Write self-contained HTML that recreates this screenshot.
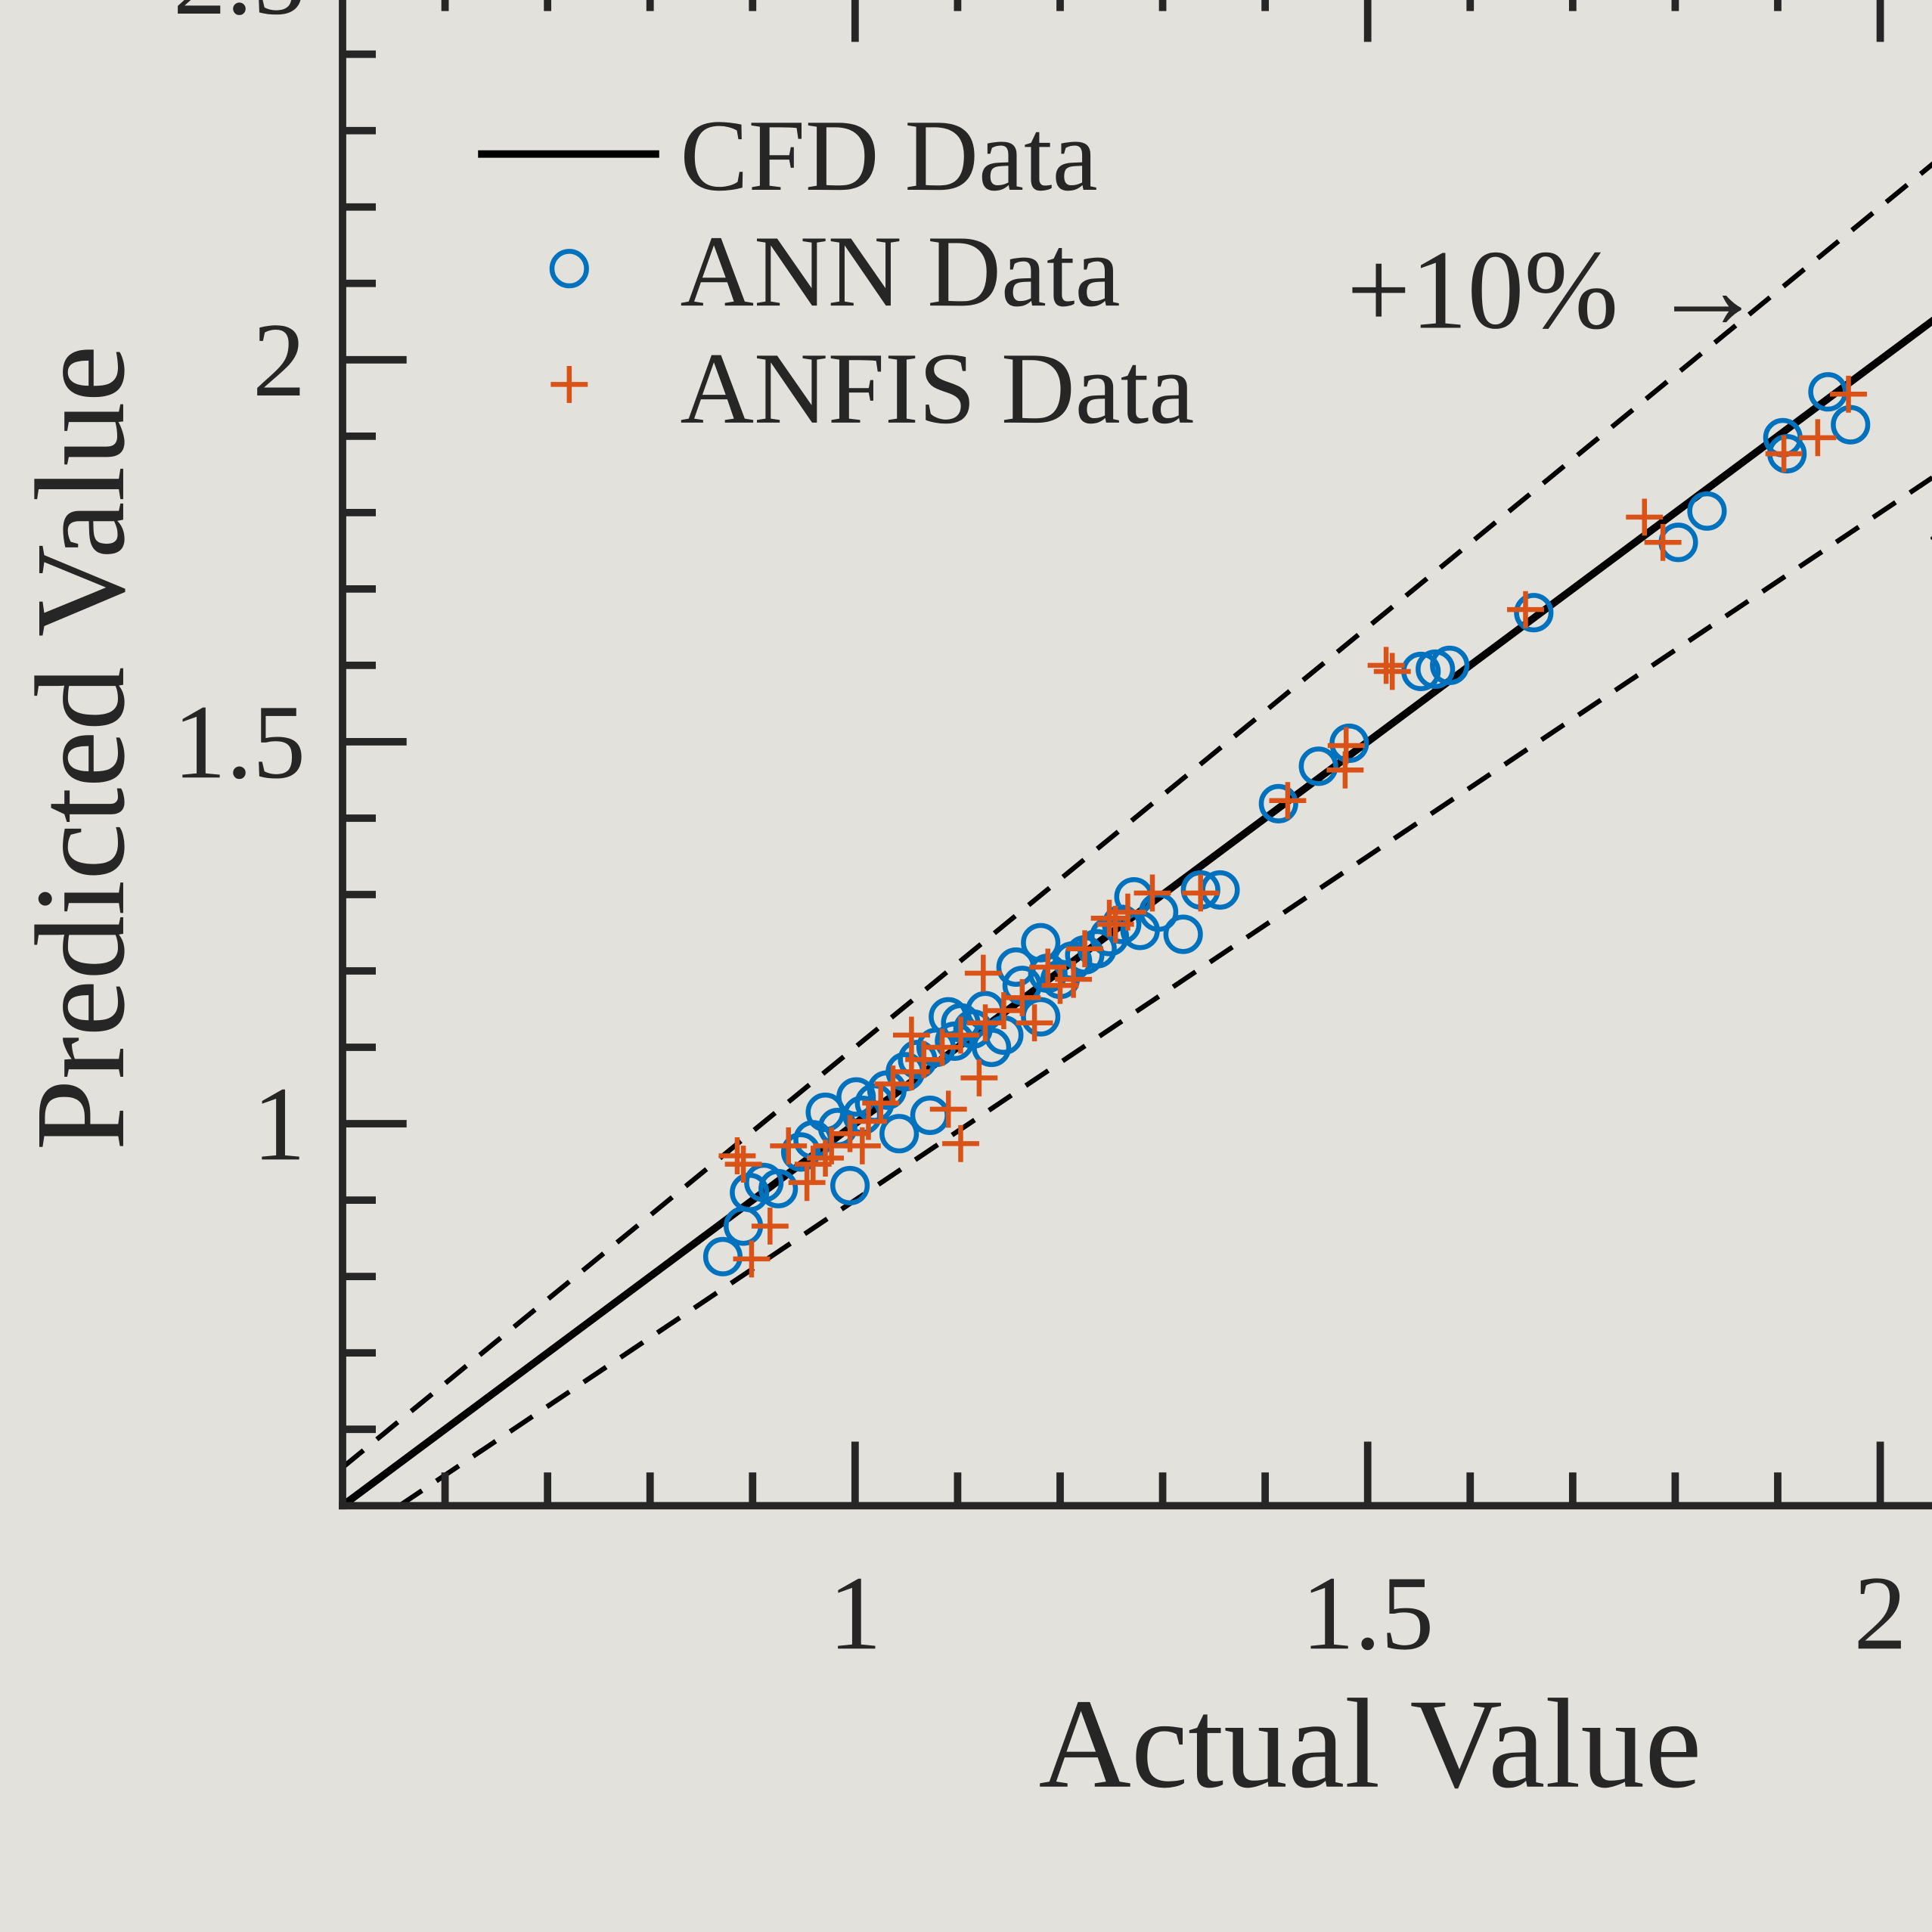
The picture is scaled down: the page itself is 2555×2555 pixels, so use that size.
<!DOCTYPE html>
<html><head><meta charset="utf-8"><style>
html,body{margin:0;padding:0;background:#e3e1db;overflow:hidden}
svg{display:block}
text{font-family:"Liberation Serif",serif;fill:#262626}
</style></head><body>
<svg id="chart" width="2555" height="2555" viewBox="0 0 1568 1568" xmlns="http://www.w3.org/2000/svg">
<rect width="1568" height="1568" fill="#e3e1db"/>
<g id="g"></g>
<text x="1112" y="1450" font-size="104" text-anchor="middle">Actual Value</text>
<text transform="translate(100,607) rotate(-90)" font-size="104" text-anchor="middle">Predicted Value</text>
<g>
<line x1="388" y1="125" x2="535" y2="125" stroke="#000" stroke-width="6"/>
<text x="552" y="154" font-size="83" fill="#000">CFD Data</text>
<circle cx="462" cy="218" r="14" fill="none" stroke="#0072BD" stroke-width="4"/>
<text x="552" y="248" font-size="83" fill="#000">ANN Data</text>
<path d="M447 312H477M462 297V327" stroke="#D95319" stroke-width="4"/>
<text x="552" y="343" font-size="83" fill="#000">ANFIS Data</text>
</g>
<text x="1093" y="266" font-size="92" fill="#000">+10%</text>
<text x="1340" y="266" font-size="92" fill="#000">→</text>
<text x="1548" y="452" font-size="92" fill="#000">← −10%</text>
</svg>
<script>
const annX=[0.871,0.891,0.897,0.911,0.925,0.995,0.971,1.001,1.043,1.073,1.091,1.103,1.127,1.157,1.181,1.181,1.224,1.272,1.278,1.296,1.320,1.337,1.356,1.413,1.452,1.482,1.552,1.566,1.580,1.662,1.803,1.831,1.905,1.909,1.949,1.971,0.947,0.959,0.983,1.007,1.019,1.031,1.049,1.061,1.079,1.097,1.115,1.133,1.145,1.163,1.188,1.200,1.212,1.236,1.248,1.260];
const annY=[0.826,0.866,0.910,0.923,0.915,0.919,1.015,1.035,0.987,1.011,1.140,1.132,1.148,1.205,1.237,1.140,1.221,1.297,1.253,1.277,1.248,1.306,1.306,1.419,1.468,1.498,1.592,1.595,1.600,1.669,1.761,1.802,1.898,1.877,1.958,1.915,0.963,0.979,0.995,1.011,1.027,1.044,1.068,1.084,1.100,1.108,1.124,1.100,1.116,1.181,1.197,1.189,1.213,1.229,1.245,1.261];
const anfisX=[0.891,0.899,0.917,0.885,0.935,0.953,0.971,1.007,1.055,1.103,1.121,1.125,1.091,1.175,1.200,1.213,1.248,1.290,1.337,1.422,1.478,1.479,1.518,1.524,1.654,1.770,1.788,1.906,1.939,1.969,0.959,0.977,0.995,1.013,1.025,1.037,1.055,1.067,1.085,1.103,1.127,1.145,1.163,1.188,1.224,1.254,1.266];
const anfisY=[0.947,0.823,0.866,0.958,0.971,0.923,0.955,0.971,1.116,0.974,1.060,1.197,1.019,1.132,1.181,1.189,1.269,1.302,1.302,1.423,1.463,1.495,1.600,1.592,1.673,1.794,1.761,1.877,1.898,1.955,0.947,0.971,0.987,1.003,1.027,1.052,1.068,1.084,1.100,1.116,1.132,1.148,1.165,1.205,1.229,1.261,1.277];
const xTickLabels=["1","1.5","2"];
const xTickValues=[1,1.5,2];
const yTickLabels=["1","1.5","2","2.5"];
const yTickValues=[1,1.5,2,2.5];

const NS="http://www.w3.org/2000/svg";
const g=document.getElementById('g');
const X=v=>278+(v-0.5)*832;
const Y=v=>1222-(v-0.5)*620;
function mk(t,a){const e=document.createElementNS(NS,t);for(const k in a)e.setAttribute(k,a[k]);g.appendChild(e);return e;}
const x0=0.5,x1=2.1;
let l=mk('line',{x1:X(x0),y1:Y(x0),x2:X(x1),y2:Y(x1),stroke:'#000','stroke-width':6});


l=mk('line',{x1:X(x0),y1:Y(1.1*x0),x2:X(x1),y2:Y(1.1*x1),stroke:'#000','stroke-width':4,'stroke-dasharray':'22 14'});


l=mk('line',{x1:X(0.5/0.9),y1:Y(0.5),x2:X(x1),y2:Y(0.9*x1),stroke:'#000','stroke-width':4,'stroke-dasharray':'22 14'});


annX.forEach((v,i)=>{const c=mk('circle',{cx:X(v),cy:Y(annY[i]),r:14,fill:'none',stroke:'#0072BD','stroke-width':4});

});
anfisX.forEach((v,i)=>{const x=X(v),y=Y(anfisY[i]);const p=mk('path',{d:`M${x-15} ${y}H${x+15}M${x} ${y-15}V${y+15}`,stroke:'#D95319','stroke-width':4});

});
const ax='#262626';
l=mk('line',{x1:278,y1:-30,x2:278,y2:1225,stroke:ax,'stroke-width':6});


l=mk('line',{x1:275,y1:1222,x2:1568,y2:1222,stroke:ax,'stroke-width':6});


l=mk('line',{x1:275,y1:Y(2.5),x2:1568,y2:Y(2.5),stroke:ax,'stroke-width':6});


for(let k=6;k<=21;k++){const v=k/10,major=k%5===0,len=major?52:27;
 let t=mk('line',{x1:X(v),y1:1222,x2:X(v),y2:1222-len,stroke:ax,'stroke-width':6});
 
 
 t=mk('line',{x1:X(v),y1:Y(2.5),x2:X(v),y2:Y(2.5)+len,stroke:ax,'stroke-width':6});
 
 }
for(let k=6;k<=25;k++){const v=k/10,major=k%5===0,len=major?52:27;
 const t=mk('line',{x1:278,y1:Y(v),x2:278+len,y2:Y(v),stroke:ax,'stroke-width':6});
 
 }
xTickValues.forEach((v,i)=>{const t=mk('text',{x:X(v),y:1338,'font-size':86,'text-anchor':'middle'});t.textContent=xTickLabels[i];
 
 });
yTickValues.forEach((v,i)=>{const t=mk('text',{x:248,y:Y(v)+29,'font-size':86,'text-anchor':'end'});t.textContent=yTickLabels[i];
 
 });
</script>
</body></html>
